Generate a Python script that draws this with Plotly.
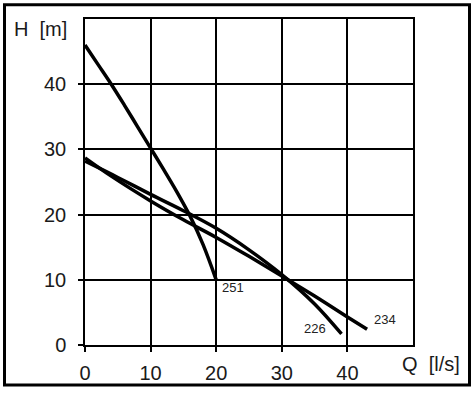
import plotly.graph_objects as go

# ---- data ----
q_251 = [0, 2, 4, 6, 8, 10, 12, 14, 16, 18, 20]
h_251 = [46.0, 43.0, 40.0, 36.8, 33.5, 30.2, 26.9, 23.5, 19.8, 15.4, 10.0]

q_226 = [0, 5, 10, 15, 20, 25, 30, 35, 39.1]
h_226 = [28.2, 25.7, 23.1, 20.6, 17.9, 14.6, 10.8, 6.3, 1.7]

q_234 = [0, 4, 10, 15, 20, 25, 30, 35, 40, 43]
h_234 = [28.7, 25.9, 22.1, 19.2, 16.5, 13.6, 10.6, 7.5, 4.3, 2.4]

curve_names = ["251", "226", "234"]
tick_vals = [0, 10, 20, 30, 40]
axis_range = [0, 50]

W, H = 475, 396
ML, MR, MT, MB = 85, 62, 19, 47
pw, ph = W - ML - MR, H - MT - MB

def px2paper_x(px):
    return (px - ML) / pw

def px2paper_y(py):
    return (H - MB - py) / ph

fig = go.Figure()
series = [(q_251, h_251), (q_226, h_226), (q_234, h_234)]
for (q, h), name in zip(series, curve_names):
    fig.add_trace(go.Scatter(x=q, y=h, mode="lines", name=name,
                             line=dict(color="black", width=3.5, shape="spline", smoothing=1.0),
                             showlegend=False, hoverinfo="skip"))

# curve labels, anchored at each curve's end point
label_font = dict(family="Liberation Sans, Arial, sans-serif", size=13, color="#222")
offsets = {"251": ("left", 4, -8), "226": ("right", -14, 5), "234": ("left", 5, 10)}
for (q, h), name in zip(series, curve_names):
    anc, xs, ys = offsets[name]
    fig.add_annotation(x=q[-1], y=h[-1], xref="x", yref="y", text=name, showarrow=False,
                       xanchor=anc, yanchor="middle", xshift=xs, yshift=ys, font=label_font)

axis_font = dict(family="Liberation Sans, Arial, sans-serif", size=20, color="#1a1a1a")
common = dict(range=axis_range, tickvals=tick_vals, showgrid=True, gridcolor="black", gridwidth=1.5,
              showline=True, linecolor="black", linewidth=1.5, mirror=True, zeroline=False,
              ticks="outside", ticklen=5, tickwidth=1.5, tickcolor="black", tickfont=axis_font,
              fixedrange=True)
fig.update_xaxes(**common, ticklabelstandoff=4)
fig.update_yaxes(**common, ticklabelstandoff=8)

fig.add_annotation(x=px2paper_x(12), y=px2paper_y(29), xref="paper", yref="paper",
                   text="H\u00a0\u00a0[m]", showarrow=False, xanchor="left", yanchor="middle",
                   font=axis_font)
fig.add_annotation(x=px2paper_x(400), y=px2paper_y(368), xref="paper", yref="paper",
                   text="Q\u00a0\u00a0[l/s]", showarrow=False, xanchor="left", yanchor="middle",
                   font=axis_font)

# outer frame
fig.add_shape(type="rect", xref="paper", yref="paper",
              x0=px2paper_x(4.5), x1=px2paper_x(469.5), y0=px2paper_y(389.5), y1=px2paper_y(4.5),
              line=dict(color="black", width=3), layer="above")

fig.update_layout(width=W, height=H, margin=dict(l=ML, r=MR, t=MT, b=MB),
                  paper_bgcolor="white", plot_bgcolor="white")
fig.write_html("out.html", config={"displayModeBar": False},
               post_script="document.body.style.margin='0';document.body.style.overflow='hidden';")
